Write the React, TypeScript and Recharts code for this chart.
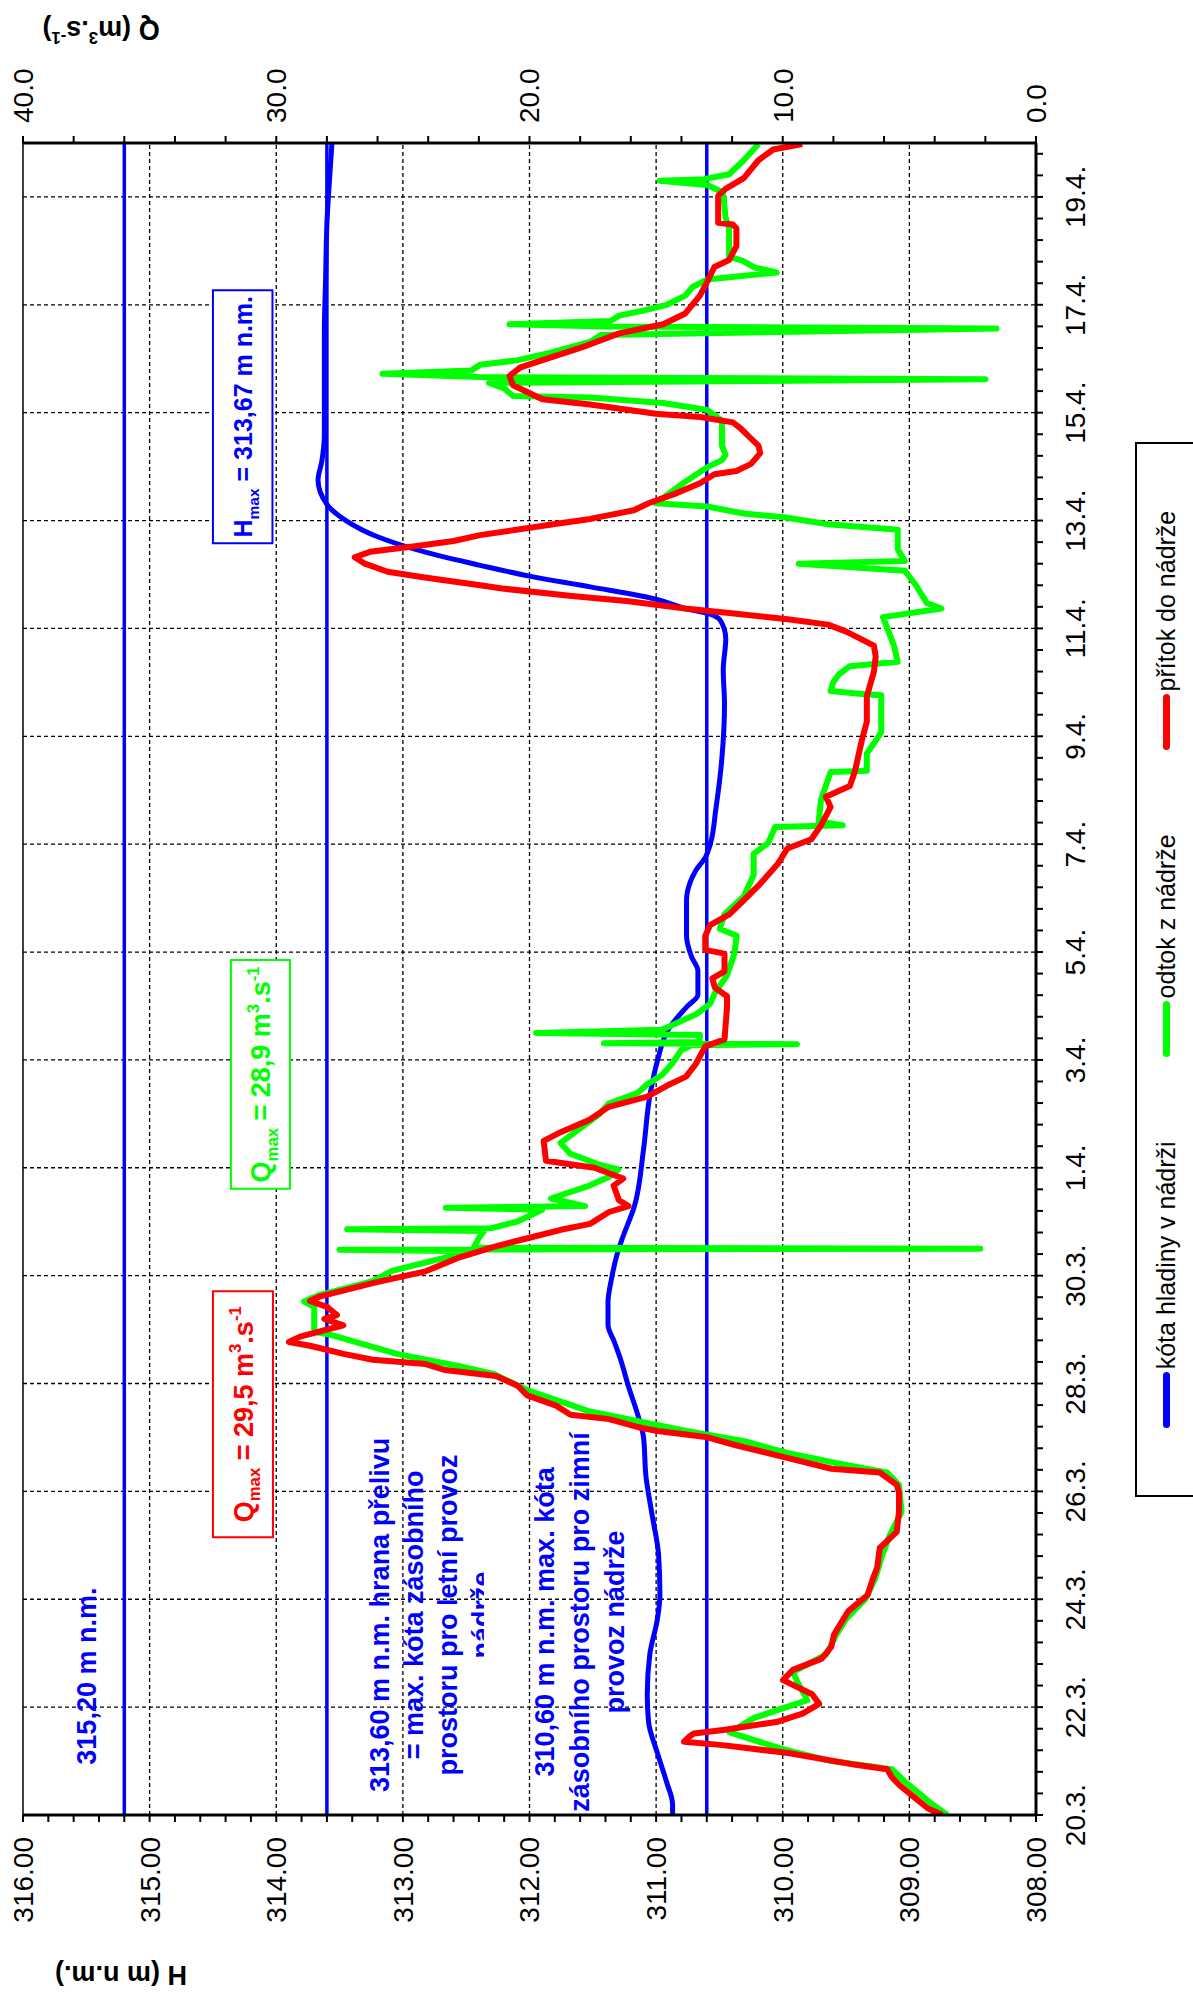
import React from "react";
import {
  LineChart,
  Line,
  XAxis,
  YAxis,
  CartesianGrid,
  ReferenceLine,
  ReferenceArea,
  Legend,
} from "recharts";

const FONT = "'Liberation Sans', Arial, sans-serif";
const BLUE = "#0000ff";
const GREEN = "#00ff00";
const RED = "#ff0000";

// [days since 20.3. 00:00, value]
const levelH: [number, number][] = [
  [0, 310.87], [0.19, 310.87], [0.63, 310.92], [1.15, 310.99], [1.73, 311.06], [2.24, 311.07],
  [2.98, 311.05], [3.63, 310.99], [4.08, 310.97], [4.81, 310.98], [5.54, 311.03], [6.27, 311.08],
  [7.01, 311.1], [7.38, 311.14], [7.96, 311.22], [8.44, 311.28], [8.77, 311.33], [9.09, 311.38],
  [9.5, 311.38], [9.97, 311.35], [10.38, 311.31], [10.67, 311.27], [11.3, 311.17], [12.33, 311.1],
  [13.33, 311.05], [13.98, 310.99], [14.58, 310.9], [14.98, 310.76], [15.21, 310.67], [15.65, 310.67],
  [15.91, 310.72], [16.3, 310.76], [16.96, 310.76], [17.3, 310.73], [17.5, 310.69], [17.76, 310.61],
  [18.02, 310.57], [18.62, 310.53], [19.61, 310.48], [20.6, 310.46], [21.23, 310.47], [21.81, 310.45],
  [22.14, 310.49], [22.27, 310.58], [22.37, 310.77], [22.54, 311.0], [22.77, 311.52], [22.97, 312.0],
  [23.17, 312.39], [23.4, 312.8], [23.7, 313.2], [24.0, 313.45], [24.3, 313.6], [24.75, 313.67],
  [25.1, 313.64], [25.6, 313.62], [26.5, 313.62], [27.5, 313.62], [28.5, 313.61], [29.5, 313.6],
  [30.3, 313.58], [31.0, 313.56],
];

const outflowQ: [number, number][] = [
  [0, 3.5], [0.19, 4.07], [0.41, 4.64], [0.63, 5.21], [0.85, 5.69], [1.0, 8.08], [1.22, 9.99],
  [1.53, 12.1], [1.8, 11.13], [2.13, 9.03], [2.46, 9.41], [2.65, 9.6], [2.98, 8.27], [3.34, 7.89],
  [3.63, 7.51], [4.0, 6.74], [4.37, 6.36], [4.81, 6.08], [5.17, 5.79], [5.62, 5.31], [6.12, 5.41],
  [6.35, 5.88], [6.49, 7.51], [6.71, 9.79], [6.93, 11.51], [7.12, 13.8], [7.3, 15.71], [7.48, 17.61],
  [7.88, 20.09], [8.18, 21.43], [8.32, 22.76], [8.55, 25.24], [8.91, 27.91], [8.96, 28.5], [9.42, 28.5],
  [9.52, 28.9], [9.64, 28.3], [9.9, 26.19], [10.09, 25.43], [10.31, 23.53], [10.45, 22.2], [10.48, 27.5],
  [10.5, 2.2], [10.52, 22.2], [10.7, 22.0], [10.83, 21.8], [10.86, 27.2], [10.88, 21.5], [11.0, 20.5],
  [11.22, 19.5], [11.26, 23.3], [11.29, 17.8], [11.43, 19.15], [11.67, 17.63], [11.83, 16.87],
  [11.97, 16.49], [12.06, 17.25], [12.26, 18.39], [12.46, 18.77], [12.66, 18.2], [12.99, 17.25],
  [13.19, 16.87], [13.39, 15.72], [13.55, 15.35], [13.72, 14.77], [13.92, 14.39], [14.18, 14.01],
  [14.27, 13.6], [14.29, 9.44], [14.31, 17.06], [14.33, 13.3], [14.46, 13.27], [14.5, 19.74],
  [14.56, 14.77], [14.84, 13.44], [15.04, 12.87], [15.24, 12.68], [15.57, 12.2], [15.97, 11.91],
  [16.3, 11.82], [16.43, 12.49], [16.7, 12.3], [17.03, 11.54], [17.43, 11.15], [17.82, 11.15],
  [18.02, 10.58], [18.32, 10.3], [18.35, 7.63], [18.42, 8.58], [18.82, 8.49], [19.34, 8.11],
  [19.36, 6.68], [19.68, 6.68], [19.94, 6.3], [20.08, 6.11], [20.76, 6.11], [20.78, 6.77],
  [20.84, 8.11], [21.0, 8.01], [21.15, 7.78], [21.3, 7.35], [21.38, 5.46], [21.68, 5.61],
  [22.21, 6.04], [22.37, 3.73], [22.47, 4.31], [22.8, 4.74], [23.07, 5.18], [23.2, 9.37],
  [23.25, 5.18], [23.47, 5.46], [23.83, 5.46], [23.93, 8.21], [24.06, 9.95], [24.13, 11.54],
  [24.26, 12.98], [24.32, 15.01], [24.52, 14.43], [24.72, 13.85], [24.99, 12.98], [25.12, 12.4],
  [25.22, 12.26], [25.39, 12.4], [25.85, 12.4], [26.05, 12.98], [26.18, 14.72], [26.28, 17.61],
  [26.31, 20.65], [26.45, 21.0], [26.55, 21.6], [26.62, 2.0], [26.66, 22.0], [26.72, 25.8],
  [26.78, 22.3], [26.89, 21.95], [26.97, 20.51], [27.11, 19.2], [27.31, 17.61], [27.44, 17.18],
  [27.56, 1.56], [27.6, 17.0], [27.64, 20.79], [27.7, 16.8], [27.8, 16.46], [27.9, 15.44],
  [28.0, 14.58], [28.17, 13.85], [28.33, 13.56], [28.47, 12.98], [28.6, 10.24], [28.69, 11.1],
  [28.82, 11.6], [28.89, 12.12], [29.42, 12.12], [29.62, 12.26], [29.99, 12.33], [30.09, 12.4],
  [30.22, 12.98], [30.3, 14.86], [30.33, 13.1], [30.42, 12.12], [30.68, 11.54], [30.98, 10.96],
];

const inflowQ: [number, number][] = [
  [0, 3.7], [0.12, 4.26], [0.34, 4.84], [0.56, 5.41], [0.7, 5.69], [0.85, 5.88], [0.93, 7.12],
  [1.15, 9.79], [1.3, 12.47], [1.36, 13.9], [1.45, 13.7], [1.51, 13.51], [1.58, 12.28], [1.73, 10.19],
  [1.88, 9.22], [2.06, 8.56], [2.24, 8.84], [2.5, 9.99], [2.69, 9.6], [2.9, 8.46], [3.12, 8.08],
  [3.34, 7.98], [3.56, 7.7], [3.78, 7.41], [4.08, 6.65], [4.37, 6.45], [4.59, 6.27], [4.95, 6.17],
  [5.25, 5.5], [5.62, 5.41], [5.98, 5.41], [6.12, 5.5], [6.35, 6.17], [6.42, 8.08], [6.64, 9.99],
  [6.86, 11.89], [7.01, 13.04], [7.12, 14.94], [7.19, 15.71], [7.34, 16.86], [7.42, 18.38],
  [7.59, 18.95], [7.78, 20.09], [7.96, 20.47], [8.14, 21.33], [8.25, 23.33], [8.36, 24.1],
  [8.44, 26.19], [8.55, 27.34], [8.7, 28.67], [8.77, 29.5], [8.87, 29.06], [9.08, 27.35], [9.2, 28.1],
  [9.27, 27.6], [9.42, 28.0], [9.53, 28.67], [9.61, 28.3], [9.86, 26.19], [10.08, 24.1], [10.34, 22.76],
  [10.53, 21.44], [10.67, 20.28], [10.85, 18.76], [10.96, 17.61], [11.18, 16.86], [11.29, 16.09],
  [11.4, 16.47], [11.67, 16.68], [11.8, 16.3], [12.0, 17.44], [12.13, 19.35], [12.5, 19.44],
  [12.66, 18.77], [12.89, 17.63], [13.13, 16.87], [13.32, 15.35], [13.52, 14.58], [13.69, 13.82],
  [13.92, 13.44], [14.25, 13.06], [14.38, 12.3], [14.98, 12.2], [15.18, 12.2], [15.34, 12.68],
  [15.51, 12.78], [15.64, 12.3], [15.97, 12.3], [16.04, 13.06], [16.3, 13.06], [16.5, 12.87],
  [16.7, 12.11], [16.96, 11.54], [17.23, 10.96], [17.63, 10.2], [17.92, 9.82], [18.09, 8.87],
  [18.35, 8.49], [18.69, 8.11], [18.88, 8.3], [19.08, 7.35], [19.35, 7.15], [19.94, 6.87],
  [20.27, 6.68], [20.74, 6.68], [21.2, 6.4], [21.48, 6.33], [21.68, 6.4], [21.94, 7.49], [22.07, 8.21],
  [22.17, 9.8], [22.27, 11.83], [22.37, 13.85], [22.51, 16.17], [22.6, 18.33], [22.74, 21.08],
  [22.8, 21.95], [22.95, 24.2], [23.05, 25.6], [23.2, 26.5], [23.32, 26.9], [23.42, 26.3],
  [23.52, 24.6], [23.62, 23.0], [23.73, 21.95], [23.93, 19.06], [24.03, 17.61], [24.19, 15.88],
  [24.32, 15.3], [24.49, 14.29], [24.69, 13.27], [24.86, 12.7], [24.92, 11.83], [25.05, 11.25],
  [25.25, 10.89], [25.39, 10.96], [25.52, 11.25], [25.72, 11.69], [25.82, 11.97], [25.92, 13.27],
  [25.98, 15.01], [26.15, 17.61], [26.25, 19.49], [26.38, 20.07], [26.51, 20.65], [26.68, 20.79],
  [26.84, 20.36], [27.04, 19.06], [27.24, 17.76], [27.47, 16.46], [27.64, 14.72], [27.84, 13.85],
  [28.17, 13.27], [28.43, 12.98], [28.7, 12.7], [28.83, 12.12], [29.09, 11.83], [29.42, 11.83],
  [29.49, 11.97], [29.52, 12.55], [30.02, 12.55], [30.15, 12.26], [30.35, 11.54], [30.68, 10.96],
  [30.88, 10.38], [30.98, 9.23],
];

const levelLines = [315.2, 313.6, 310.6];
const dayTicks = Array.from({ length: 78 }, (_, i) => Math.round(i * 4) / 10);
const hTicks = Array.from({ length: 41 }, (_, i) => Math.round((308 + i * 0.2) * 10) / 10);
const qTicks = Array.from({ length: 21 }, (_, i) => i * 2);
const dayGrid = Array.from({ length: 15 }, (_, i) => 2 + i * 2);
const hGrid = [309, 310, 311, 312, 313, 314, 315];

const legendItems = [
  { name: "kóta hladiny v nádrži", color: BLUE },
  { name: "odtok z nádrže", color: GREEN },
  { name: "přítok do nádrže", color: RED },
];

const note1 = ["313,60 m n.m. hrana přelivu", "= max. kóta zásobního", "prostoru pro letní provoz", "nádrže"];
const note2 = ["310,60 m n.m. max. kóta", "zásobního prostoru pro zimní", "provoz nádrže"];

const toRows = (pairs: [number, number][], key: string) => pairs.map(([t, v]) => ({ t, [key]: v }));
const levelData = toRows(levelH, "h");
const outflowData = toRows(outflowQ, "q");
const inflowData = toRows(inflowQ, "q");

const isMult = (v: number, m: number) => Math.abs(v / m - Math.round(v / m)) < 1e-6;
const dayLabel = (d: number) => (d < 12 ? `${20 + d}.3.` : `${d - 11}.4.`);

const DateTick = (p: any) => {
  const v = p.payload.value;
  if (!isMult(v, 2)) return <g />;
  return (
    <text x={p.x} y={p.y} dy="0.71em" textAnchor="middle" fontFamily={FONT} fontSize={28} fill="#000">
      {dayLabel(v)}
    </text>
  );
};

const HTick = (p: any) => {
  const v = p.payload.value;
  if (!isMult(v, 1)) return <g />;
  return (
    <text x={p.x} y={p.y} dy="0.355em" textAnchor="end" fontFamily={FONT} fontSize={28} fill="#000">
      {v.toFixed(2)}
    </text>
  );
};

const QTick = (p: any) => {
  const v = p.payload.value;
  if (!isMult(v, 10)) return <g />;
  return (
    <text x={p.x} y={p.y} dy="0.355em" textAnchor="start" fontFamily={FONT} fontSize={28} fill="#000">
      {v.toFixed(1)}
    </text>
  );
};

type Part = [string, "n" | "sub" | "sup"];

const richSpans = (parts: Part[], size: number) => {
  let shift = 0;
  return parts.map(([s, k], i) => {
    const target = k === "sub" ? size * 0.28 : k === "sup" ? -size * 0.42 : 0;
    const dy = target - shift;
    shift = target;
    return (
      <tspan key={i} dy={dy !== 0 ? dy : undefined} fontSize={k === "n" ? size : size * 0.62}>
        {s}
      </tspan>
    );
  });
};

const BoxText = (p: any) => {
  const { x, y, width, height } = p.viewBox;
  return (
    <text
      x={x + width / 2}
      y={y + height / 2 + p.size * 0.36}
      textAnchor="middle"
      fontFamily={FONT}
      fontWeight="bold"
      fill={p.color}
      fontSize={p.size}
    >
      {richSpans(p.parts, p.size)}
    </text>
  );
};

// multi-line note, clipped vertically to its area (like the original text box)
const NoteText = (p: any) => {
  const { x, y, width, height } = p.viewBox;
  return (
    <g>
      <defs>
        <clipPath id={p.clipId}>
          <rect x={x - 120} y={y} width={width + 240} height={height} />
        </clipPath>
      </defs>
      <text clipPath={`url(#${p.clipId})`} fontFamily={FONT} fontWeight="bold" fontSize={27} fill={BLUE} textAnchor="middle">
        {p.lines.map((l: string, i: number) => (
          <tspan key={i} x={x + width / 2} y={y + p.top + i * p.step}>
            {l}
          </tspan>
        ))}
      </text>
    </g>
  );
};

const AxisTitle = (p: any) => {
  const { x, y } = p.viewBox;
  const cx = x + p.dx;
  const cy = y + p.dy;
  return (
    <text
      transform={`translate(${cx},${cy}) rotate(-90)`}
      y={9}
      textAnchor="middle"
      fontFamily={FONT}
      fontWeight="bold"
      fontSize={27}
      fill="#000"
    >
      {richSpans(p.parts, 27)}
    </text>
  );
};

const LegendBox = () => (
  <div
    style={{
      boxSizing: "border-box",
      width: 1055,
      height: 120,
      border: "2px solid #000",
      background: "#fff",
      display: "flex",
      justifyContent: "center",
      alignItems: "flex-start",
      gap: 84,
      paddingTop: 15,
      fontFamily: FONT,
      fontSize: 25,
      lineHeight: "29px",
      color: "#000",
    }}
  >
    {legendItems.map((it) => (
      <div key={it.name} style={{ display: "flex", alignItems: "center" }}>
        <span
          style={{ display: "inline-block", width: 56, height: 7, borderRadius: 4, background: it.color, marginRight: 3 }}
        />
        <span>{it.name}</span>
      </div>
    ))}
  </div>
);

const axisLine = { stroke: "#000", strokeWidth: 3 };
const tickLine = { stroke: "#000", strokeWidth: 2 };

export default function App() {
  return (
    <div style={{ position: "absolute", left: 0, top: 0, width: 1193, height: 1995, overflow: "hidden", background: "#fff" }}>
      <div
        style={{
          position: "absolute",
          left: 0,
          top: 0,
          width: 1995,
          height: 1193,
          transformOrigin: "0 0",
          transform: "translate(0px, 1995px) rotate(-90deg)",
        }}
      >
        <LineChart width={1995} height={1193} margin={{ top: 23, right: 0, bottom: 97, left: 0 }}>
          <CartesianGrid
            yAxisId="H"
            horizontalValues={hGrid}
            verticalValues={dayGrid}
            stroke="#000"
            strokeWidth={1.3}
            strokeDasharray="4 3"
          />
          <XAxis
            type="number"
            dataKey="t"
            domain={[0, 31]}
            ticks={dayTicks}
            interval={0}
            tick={DateTick}
            tickSize={7}
            tickMargin={22}
            height={60}
            axisLine={axisLine}
            tickLine={tickLine}
            allowDataOverflow
          />
          <YAxis
            yAxisId="H"
            orientation="left"
            type="number"
            domain={[308, 316]}
            ticks={hTicks}
            interval={0}
            tick={HTick}
            tickSize={7}
            tickMargin={15}
            width={180}
            axisLine={axisLine}
            tickLine={tickLine}
            allowDataOverflow
            label={<AxisTitle dx={20} dy={98} parts={[["H (m n.m.)", "n"]]} />}
          />
          <YAxis
            yAxisId="Q"
            orientation="right"
            type="number"
            domain={[0, 40]}
            ticks={qTicks}
            interval={0}
            tick={QTick}
            tickSize={7}
            tickMargin={13}
            width={143}
            axisLine={axisLine}
            tickLine={tickLine}
            allowDataOverflow
            label={
              <AxisTitle
                dx={113}
                dy={78}
                parts={[["Q (m", "n"], ["3", "sup"], [".s", "n"], ["-1", "sup"], [")", "n"]]}
              />
            }
          />
          <ReferenceLine yAxisId="H" y={316} stroke="#000" strokeWidth={1.5} />
          {levelLines.map((v) => (
            <ReferenceLine key={v} yAxisId="H" y={v} stroke={BLUE} strokeWidth={3.5} />
          ))}
          <ReferenceArea
            yAxisId="H"
            x1={0.37}
            x2={4.78}
            y1={315.31}
            y2={315.63}
            fill="none"
            stroke="none"
            label={<NoteText clipId="n0" lines={["315,20 m n.m."]} top={26} step={34} />}
          />
          <ReferenceArea
            yAxisId="H"
            x1={0.28}
            x2={7.14}
            y1={312.36}
            y2={313.38}
            fill="none"
            stroke="none"
            label={<NoteText clipId="n1" lines={note1} top={34} step={34} />}
          />
          <ReferenceArea
            yAxisId="H"
            x1={0.28}
            x2={6.88}
            y1={311.13}
            y2={312.07}
            fill="none"
            stroke="none"
            label={<NoteText clipId="n2" lines={note2} top={33} step={35} />}
          />
          <ReferenceArea
            yAxisId="H"
            x1={23.58}
            x2={28.27}
            y1={314.03}
            y2={314.5}
            fill="#fff"
            fillOpacity={1}
            stroke={BLUE}
            strokeWidth={2}
            label={
              <BoxText
                color={BLUE}
                size={25}
                parts={[["H", "n"], ["max", "sub"], [" = 313,67 m n.m.", "n"]]}
              />
            }
          />
          <ReferenceArea
            yAxisId="Q"
            x1={11.61}
            x2={15.85}
            y1={29.46}
            y2={31.79}
            fill="#fff"
            fillOpacity={1}
            stroke={GREEN}
            strokeWidth={2}
            label={
              <BoxText
                color={GREEN}
                size={27}
                parts={[["Q", "n"], ["max", "sub"], [" = 28,9 m", "n"], ["3", "sup"], [".s", "n"], ["-1", "sup"]]}
              />
            }
          />
          <ReferenceArea
            yAxisId="Q"
            x1={5.15}
            x2={9.71}
            y1={30.13}
            y2={32.5}
            fill="#fff"
            fillOpacity={1}
            stroke={RED}
            strokeWidth={2}
            label={
              <BoxText
                color={RED}
                size={27}
                parts={[["Q", "n"], ["max", "sub"], [" = 29,5 m", "n"], ["3", "sup"], [".s", "n"], ["-1", "sup"]]}
              />
            }
          />
          <Line
            yAxisId="H"
            data={levelData}
            dataKey="h"
            type="monotone"
            stroke={BLUE}
            strokeWidth={5}
            dot={false}
            activeDot={false}
            isAnimationActive={false}
          />
          <Line
            yAxisId="Q"
            data={outflowData}
            dataKey="q"
            type="linear"
            stroke={GREEN}
            strokeWidth={6}
            strokeLinejoin="round"
            dot={false}
            activeDot={false}
            isAnimationActive={false}
          />
          <Line
            yAxisId="Q"
            data={inflowData}
            dataKey="q"
            type="linear"
            stroke={RED}
            strokeWidth={6}
            strokeLinejoin="round"
            dot={false}
            activeDot={false}
            isAnimationActive={false}
          />
          <Legend
            layout="horizontal"
            verticalAlign="middle"
            align="center"
            wrapperStyle={{ position: "absolute", left: 498, top: 1135, width: 1055, height: 120, margin: 0 }}
            content={() => <LegendBox />}
          />
        </LineChart>
      </div>
    </div>
  );
}
